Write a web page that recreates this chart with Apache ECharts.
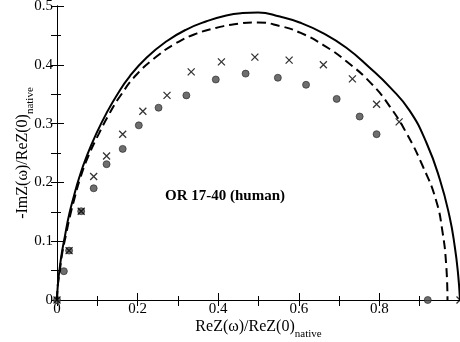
<!DOCTYPE html>
<html>
<head>
<meta charset="utf-8">
<script src="https://cdn.jsdelivr.net/npm/echarts@6/dist/echarts.min.js"></script>
<style>
	html, body { margin: 0; padding: 0; background: #fff; }
	#main { width: 460px; height: 342px; }
</style>
</head>
<body>
<div id="main"></div>
<script>
// 实测点 (圆点)
var circleX = [0, 0.017, 0.030, 0.060, 0.091, 0.123, 0.163, 0.203, 0.252, 0.321, 0.394, 0.468, 0.548, 0.618, 0.694, 0.751, 0.793, 0.920];
var circleY = [0, 0.049, 0.084, 0.151, 0.190, 0.231, 0.257, 0.297, 0.327, 0.348, 0.375, 0.385, 0.378, 0.366, 0.342, 0.312, 0.282, 0];

// 实测点 (叉号)
var crossX = [0, 0.030, 0.060, 0.091, 0.123, 0.163, 0.213, 0.273, 0.333, 0.408, 0.491, 0.576, 0.661, 0.733, 0.793, 0.849, 1.0];
var crossY = [0, 0.084, 0.151, 0.210, 0.245, 0.282, 0.321, 0.348, 0.388, 0.405, 0.413, 0.408, 0.400, 0.376, 0.333, 0.303, 0];

// 实线
var solidX = [0, 0.002, 0.006, 0.012, 0.020, 0.030, 0.042, 0.055, 0.074, 0.099, 0.123, 0.150, 0.180, 0.222, 0.272, 0.321, 0.371, 0.420, 0.460, 0.499, 0.553, 0.602, 0.660, 0.718, 0.776, 0.826, 0.875, 0.917, 0.950, 0.974, 0.987, 0.995, 1.0];
var solidY = [0, 0.025, 0.050, 0.080, 0.110, 0.145, 0.177, 0.208, 0.245, 0.285, 0.318, 0.350, 0.380, 0.412, 0.440, 0.460, 0.474, 0.484, 0.488, 0.489, 0.482, 0.472, 0.454, 0.429, 0.395, 0.362, 0.322, 0.267, 0.205, 0.142, 0.091, 0.046, 0];

// 虚线
var dashX = [0, 0.002, 0.007, 0.013, 0.022, 0.033, 0.045, 0.058, 0.078, 0.104, 0.130, 0.156, 0.197, 0.247, 0.296, 0.346, 0.396, 0.440, 0.499, 0.553, 0.602, 0.660, 0.718, 0.780, 0.826, 0.867, 0.908, 0.940, 0.957, 0.966, 0.969];
var dashY = [0, 0.025, 0.050, 0.080, 0.110, 0.145, 0.177, 0.208, 0.245, 0.283, 0.317, 0.346, 0.383, 0.414, 0.437, 0.453, 0.463, 0.469, 0.472, 0.466, 0.455, 0.434, 0.406, 0.368, 0.329, 0.284, 0.227, 0.171, 0.114, 0.057, 0];

var xTicks = [0, 0.2, 0.4, 0.6, 0.8];
var yTicks = [0, 0.1, 0.2, 0.3, 0.4, 0.5];

var FONT = 'Liberation Serif';

function pairs(xs, ys) {
	var out = [];
	for (var i = 0; i < xs.length; i++) {
		out.push([xs[i], ys[i]]);
	}
	return out;
}

function tickLabel(list) {
	return function(v) {
		var r = Math.round(v * 10) / 10;
		return list.indexOf(r) >= 0 ? String(r) : '';
	};
}

var myChartGC = function() {
	var myChart = echarts.init(document.getElementById('main'));

	var black = { color : '#000', width : 1 };
	// 轴标题: 正文 + 下标 native
	var nameRich = {
		m : { fontFamily : FONT, fontSize : 16, color : '#000', lineHeight : 16 },
		s : { fontFamily : FONT, fontSize : 11, color : '#000', lineHeight : 11, padding : [15, 0, 0, 0] }
	};

	var option = {
		animation : false,
		backgroundColor : '#fff',
		grid : {
			left : 57,
			right : 0,
			top : 6,
			bottom : 42,
			outerBoundsMode : 'none'
		},
		xAxis : [ {
			type : 'value',
			min : 0,
			max : 1,
			interval : 0.2,
			position : 'bottom',
			name : '{m|ReZ(ω)/ReZ(0)}{s|native}',
			nameLocation : 'middle',
			nameGap : 19,
			nameMoveOverlap : false,
			nameTextStyle : { rich : nameRich },
			axisLine : { show : true, lineStyle : black },
			axisTick : { show : true, inside : true, length : 7, lineStyle : black },
			minorTick : { show : true, splitNumber : 2, length : 4, lineStyle : black },
			axisLabel : { color : '#000', fontFamily : FONT, fontSize : 15, margin : 2, formatter : tickLabel(xTicks) },
			splitLine : { show : false }
		}, {
			type : 'value',
			min : 0,
			max : 1,
			interval : 0.2,
			position : 'top',
			axisLine : { show : true, lineStyle : black },
			axisTick : { show : true, inside : true, length : 6, lineStyle : black },
			minorTick : { show : true, splitNumber : 2, length : 6, lineStyle : black },
			axisLabel : { show : false },
			splitLine : { show : false }
		} ],
		yAxis : [ {
			type : 'value',
			min : 0,
			max : 0.5,
			interval : 0.1,
			position : 'left',
			name : '{m|-ImZ(ω)/ReZ(0)}{s|native}',
			nameLocation : 'middle',
			nameRotate : 90,
			nameGap : 26,
			nameMoveOverlap : false,
			nameTextStyle : { rich : nameRich },
			axisLine : { show : true, lineStyle : black },
			axisTick : { show : true, inside : true, length : 7, lineStyle : black },
			minorTick : { show : true, splitNumber : 2, length : 4, lineStyle : black },
			axisLabel : { color : '#000', fontFamily : FONT, fontSize : 15, margin : 4, formatter : tickLabel(yTicks) },
			splitLine : { show : false }
		}, {
			type : 'value',
			min : 0,
			max : 0.5,
			interval : 0.1,
			position : 'right',
			axisLine : { show : true, lineStyle : black },
			axisTick : { show : true, inside : true, length : 6, lineStyle : black },
			minorTick : { show : true, splitNumber : 2, length : 6, lineStyle : black },
			axisLabel : { show : false },
			splitLine : { show : false }
		} ],
		graphic : [ {
			type : 'text',
			left : 165,
			top : 189,
			style : {
				text : 'OR 17-40 (human)',
				fontFamily : FONT,
				fontSize : 15,
				fontWeight : 'bold',
				fill : '#000'
			}
		} ],
		series : [ {
			name : 'solid',
			type : 'line',
			data : pairs(solidX, solidY),
			smooth : 0.5,
			showSymbol : false,
			lineStyle : { color : '#000', width : 2 }
		}, {
			name : 'dashed',
			type : 'line',
			data : pairs(dashX, dashY),
			smooth : 0.5,
			showSymbol : false,
			lineStyle : { color : '#000', width : 2, type : [9, 5] }
		}, {
			name : 'circle',
			type : 'scatter',
			data : pairs(circleX, circleY),
			symbol : 'circle',
			symbolSize : 7,
			itemStyle : { color : '#4a4a4a', borderColor : '#222', borderWidth : 0.8 }
		}, {
			name : 'cross',
			type : 'scatter',
			data : pairs(crossX, crossY),
			symbol : 'path://M0,0L10,10M10,0L0,10',
			symbolSize : 7,
			itemStyle : { color : 'rgba(0,0,0,0)', borderColor : '#000', borderWidth : 1.3 }
		} ]
	};
	myChart.setOption(option);
};

myChartGC();
</script>
</body>
</html>
